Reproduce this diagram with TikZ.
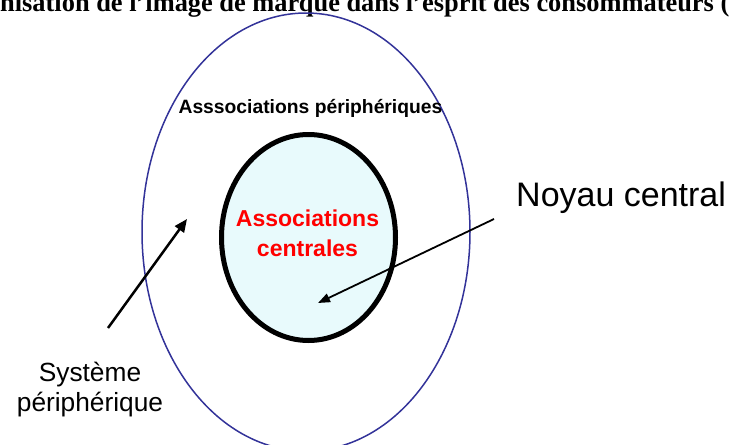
\documentclass[tikz,border=0pt]{standalone}
\usepackage{fontspec}
\setmainfont{Liberation Serif}
\setsansfont{Liberation Sans}
\usetikzlibrary{shapes.geometric,arrows.meta}
\definecolor{outerblue}{RGB}{51,51,153}
\definecolor{corefill}{RGB}{232,250,252}
\definecolor{corered}{RGB}{255,0,0}
\begin{document}
\begin{tikzpicture}[x=1pt,y=-1pt,
  outerring/.style={ellipse,draw=outerblue,line width=1.5pt,inner sep=0pt,
    minimum width=328pt,minimum height=438pt},
  corering/.style={ellipse,draw=black,fill=corefill,line width=5pt,inner sep=0pt,
    minimum width=174pt,minimum height=206pt},
  titletext/.style={font=\rmfamily\bfseries\fontsize{26.4}{30}\selectfont,inner sep=0pt},
  periptext/.style={font=\sffamily\bfseries\fontsize{19.3}{23}\selectfont,inner sep=0pt},
  coretext/.style={font=\sffamily\bfseries\fontsize{23}{30}\selectfont,text=corered,align=center,inner sep=0pt},
  labeltext/.style={font=\sffamily\fontsize{26.3}{30}\selectfont,align=center,inner sep=0pt},
  bigtext/.style={font=\sffamily\fontsize{34}{38}\selectfont,inner sep=0pt},
  thickarrow/.style={draw=black,line width=2.5pt,-{Triangle[length=13pt,width=11pt]}},
  thinarrow/.style={draw=black,line width=1.8pt,-{Triangle[length=12pt,width=9pt]}}
]
\path[use as bounding box,clip] (0,0) rectangle (732,445);
\node[titletext,anchor=base west] (title) at (0,11) {nisation de l'image de marque dans l'esprit des consommateurs (};
\node[outerring] (outer) at (306,232) {};
\node[corering] (core) at (308.5,237.5) {};
\node[periptext,anchor=base] (perip) at (310.5,113) {Asssociations périphériques};
\node[coretext] (coretxt) at (307.5,233) {Associations\\centrales};
\node[labeltext] (systeme) at (90,390) {Système\\périphérique};
\node[bigtext,anchor=base west] (noyau) at (516,206) {Noyau central};
\coordinate (sysfrom) at (108,328);
\coordinate (perarea) at (187,219);
\coordinate (noyfrom) at (494,219);
\coordinate (corearea) at (318,303);
\draw[thickarrow] (sysfrom) -- (perarea);
\draw[thinarrow] (noyfrom) -- (corearea);
\end{tikzpicture}
\end{document}
